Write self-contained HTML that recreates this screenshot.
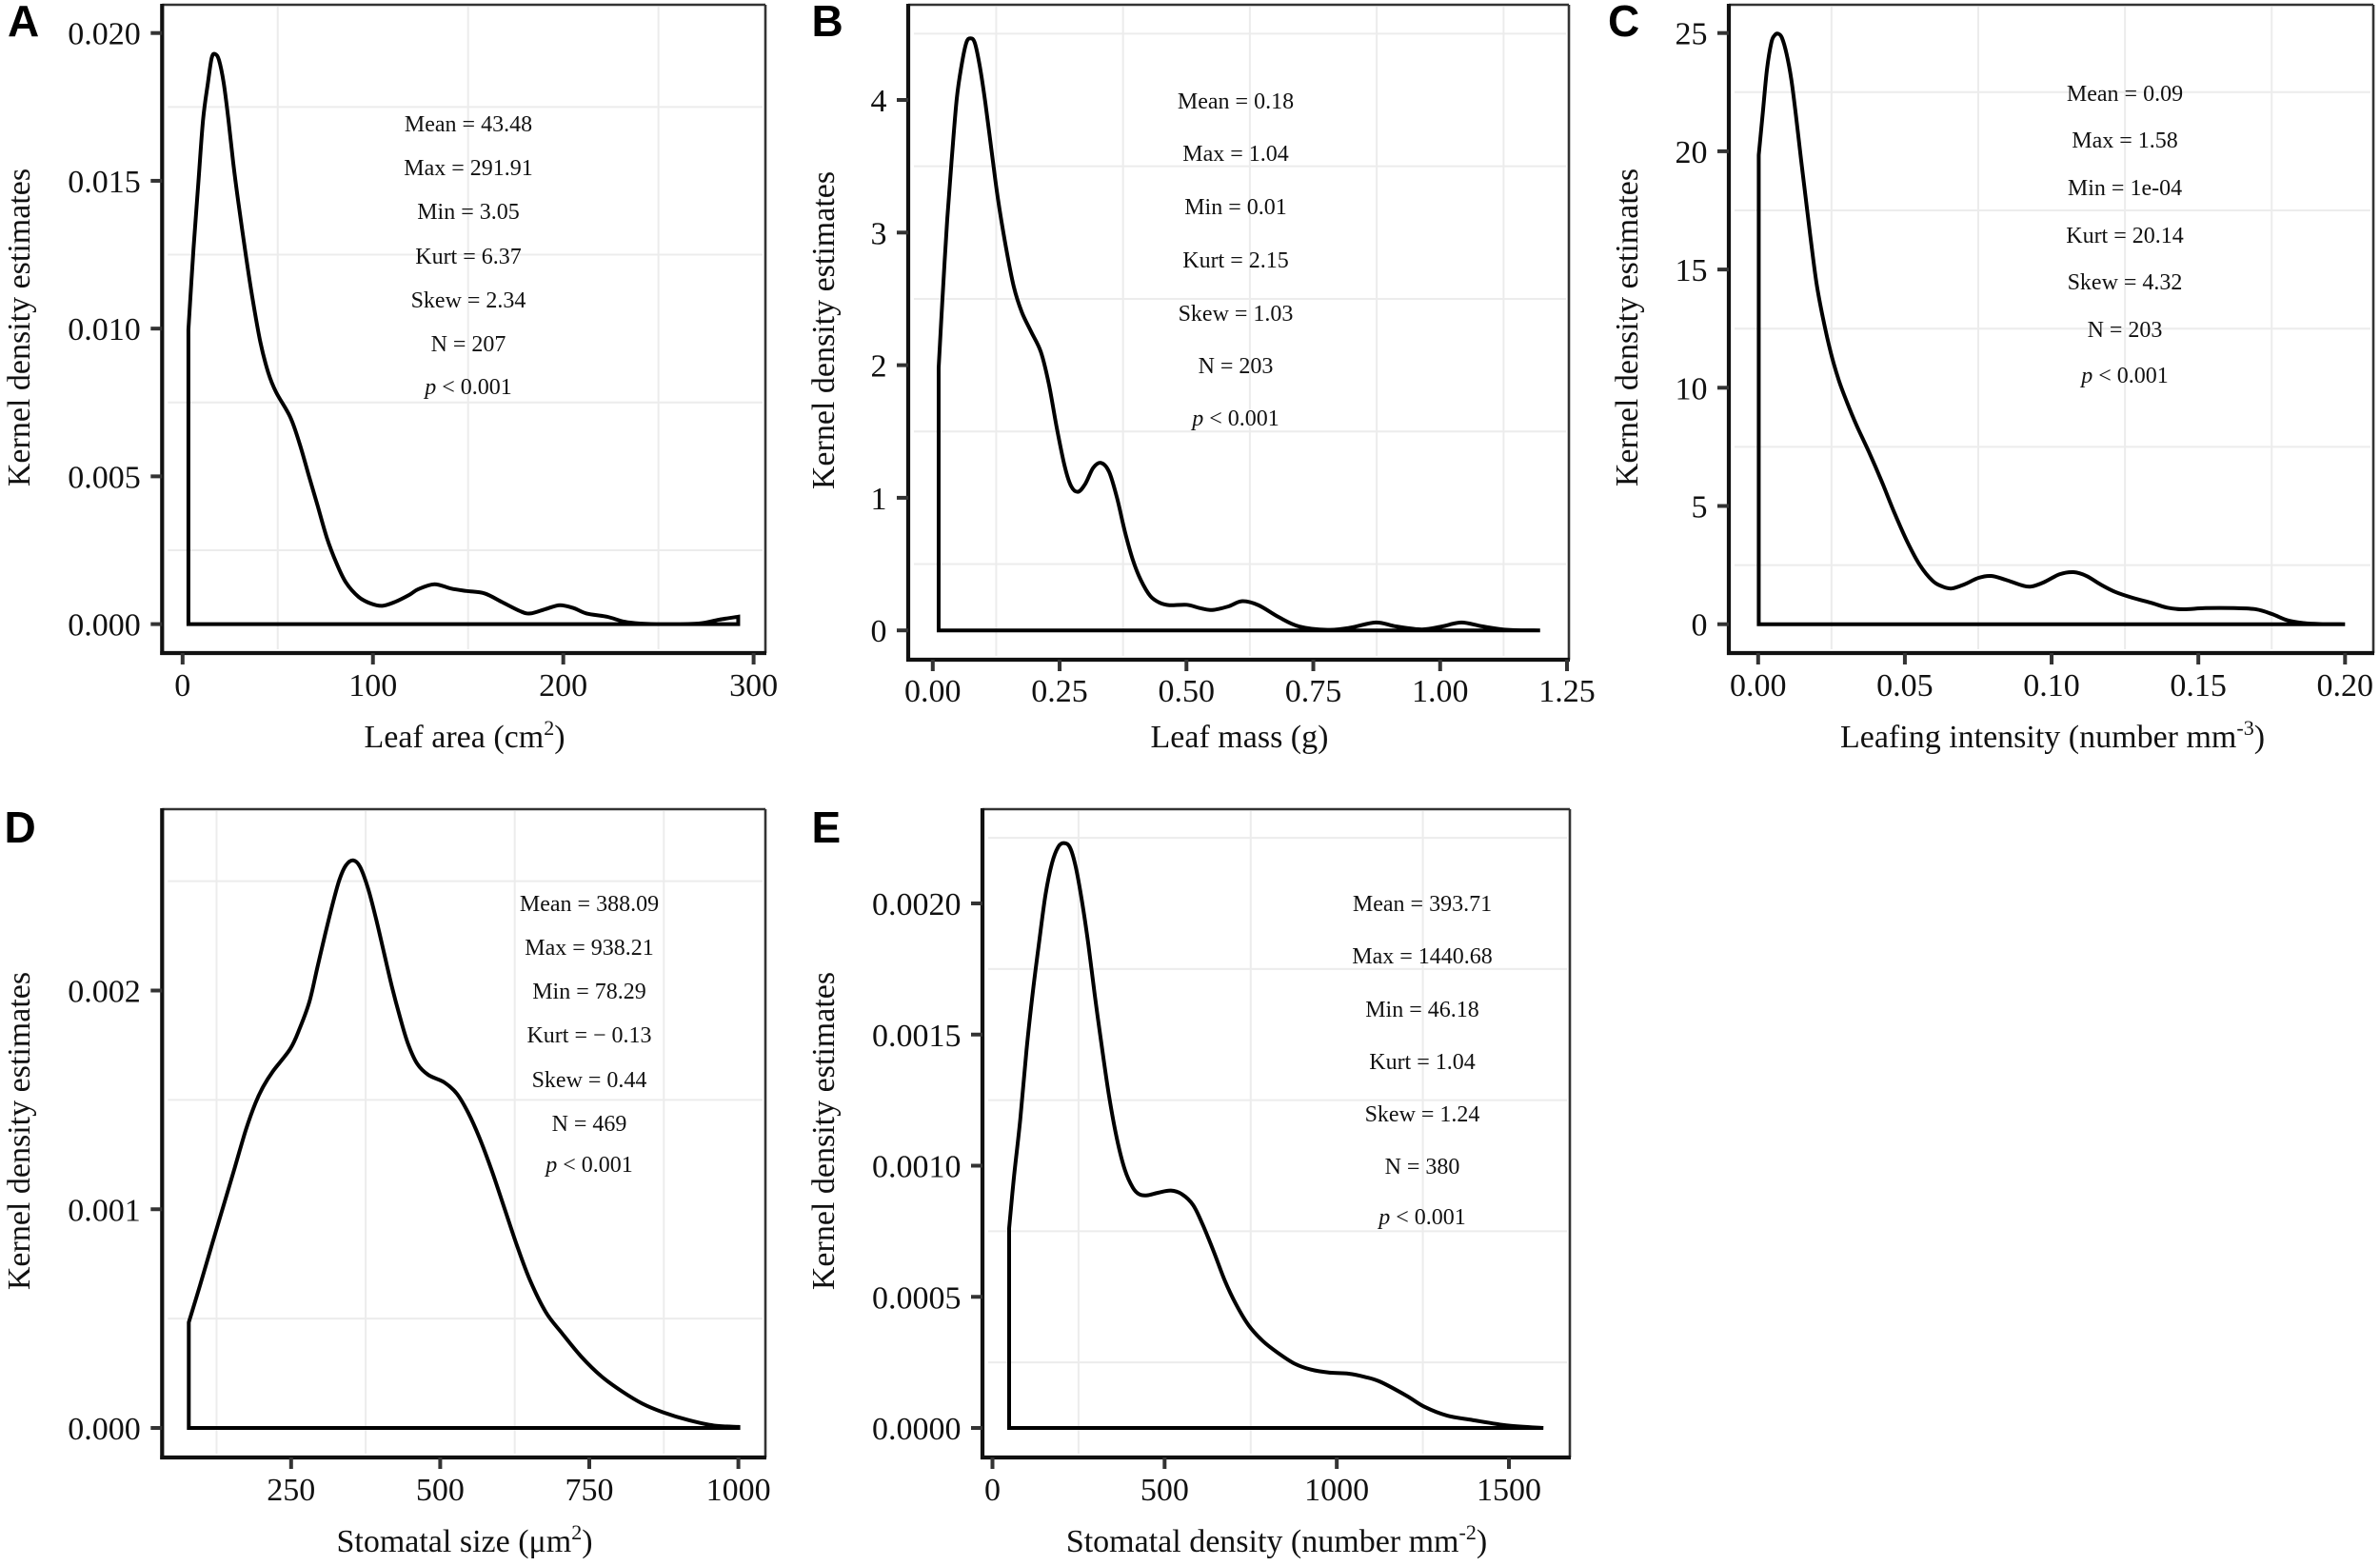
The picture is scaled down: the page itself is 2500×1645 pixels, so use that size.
<!DOCTYPE html>
<html lang="en">
<head>
<meta charset="utf-8">
<title>Kernel density estimates</title>
<style>
html,body{margin:0;padding:0;background:#fff;}
svg{display:block;font-family:"Liberation Serif",serif;}
.stat{font-size:24px;text-anchor:middle;fill:#111;}
.title{font-size:34px;text-anchor:middle;fill:#111;}
.letter{font-family:"Liberation Sans",sans-serif;font-weight:700;font-size:46px;fill:#000;}
.tick{font-size:34px;fill:#111;}
</style>
</head>
<body>
<svg id="figure" xmlns="http://www.w3.org/2000/svg" width="2500" height="1645" viewBox="0 0 2500 1645">
<rect width="2500" height="1645" fill="#fff"/>
<g id="marks"></g>

<text class="letter" x="8" y="38">A</text>
<text class="letter" x="852.5" y="38">B</text>
<text class="letter" x="1689" y="38">C</text>
<text class="letter" x="4.5" y="885">D</text>
<text class="letter" x="852.5" y="885">E</text>

<text class="title" transform="translate(31 344) rotate(-90)">Kernel density estimates</text>
<text class="title" transform="translate(876 347) rotate(-90)">Kernel density estimates</text>
<text class="title" transform="translate(1720 344) rotate(-90)">Kernel density estimates</text>
<text class="title" transform="translate(31 1188) rotate(-90)">Kernel density estimates</text>
<text class="title" transform="translate(876 1188) rotate(-90)">Kernel density estimates</text>

<text class="title" x="488" y="785">Leaf area (cm<tspan dy="-13" font-size="22">2</tspan><tspan dy="13">)</tspan></text>
<text class="title" x="1302" y="785">Leaf mass (g)</text>
<text class="title" x="2156" y="785">Leafing intensity (number mm<tspan dy="-13" font-size="22">-3</tspan><tspan dy="13">)</tspan></text>
<text class="title" x="488" y="1630">Stomatal size (μm<tspan dy="-13" font-size="22">2</tspan><tspan dy="13">)</tspan></text>
<text class="title" x="1341" y="1630">Stomatal density (number mm<tspan dy="-13" font-size="22">-2</tspan><tspan dy="13">)</tspan></text>

<g>
<text class="stat" x="492" y="138">Mean = 43.48</text>
<text class="stat" x="492" y="184">Max = 291.91</text>
<text class="stat" x="492" y="230">Min = 3.05</text>
<text class="stat" x="492" y="277">Kurt = 6.37</text>
<text class="stat" x="492" y="323">Skew = 2.34</text>
<text class="stat" x="492" y="369">N = 207</text>
<text class="stat" x="492" y="414"><tspan font-style="italic">p</tspan> &lt; 0.001</text>
</g>
<g>
<text class="stat" x="1298" y="114">Mean = 0.18</text>
<text class="stat" x="1298" y="169">Max = 1.04</text>
<text class="stat" x="1298" y="225">Min = 0.01</text>
<text class="stat" x="1298" y="281">Kurt = 2.15</text>
<text class="stat" x="1298" y="337">Skew = 1.03</text>
<text class="stat" x="1298" y="392">N = 203</text>
<text class="stat" x="1298" y="447"><tspan font-style="italic">p</tspan> &lt; 0.001</text>
</g>
<g>
<text class="stat" x="2232" y="106">Mean = 0.09</text>
<text class="stat" x="2232" y="155">Max = 1.58</text>
<text class="stat" x="2232" y="205">Min = 1e-04</text>
<text class="stat" x="2232" y="255">Kurt = 20.14</text>
<text class="stat" x="2232" y="304">Skew = 4.32</text>
<text class="stat" x="2232" y="354">N = 203</text>
<text class="stat" x="2232" y="402"><tspan font-style="italic">p</tspan> &lt; 0.001</text>
</g>
<g>
<text class="stat" x="619" y="957">Mean = 388.09</text>
<text class="stat" x="619" y="1003">Max = 938.21</text>
<text class="stat" x="619" y="1049">Min = 78.29</text>
<text class="stat" x="619" y="1095">Kurt = − 0.13</text>
<text class="stat" x="619" y="1142">Skew = 0.44</text>
<text class="stat" x="619" y="1188">N = 469</text>
<text class="stat" x="619" y="1231"><tspan font-style="italic">p</tspan> &lt; 0.001</text>
</g>
<g>
<text class="stat" x="1494" y="957">Mean = 393.71</text>
<text class="stat" x="1494" y="1012">Max = 1440.68</text>
<text class="stat" x="1494" y="1068">Min = 46.18</text>
<text class="stat" x="1494" y="1123">Kurt = 1.04</text>
<text class="stat" x="1494" y="1178">Skew = 1.24</text>
<text class="stat" x="1494" y="1233">N = 380</text>
<text class="stat" x="1494" y="1286"><tspan font-style="italic">p</tspan> &lt; 0.001</text>
</g>
</svg>

<script>
/* Panel A: leaf area */
const areaX = [3.05,5.75,8.3,10.75,13.3,15.3,17.1,19.1,21.6,24.1,26.6,29.1,33.3,36.6,40.8,45,49.1,56.6,61.6,66.6,70.8,75.8,80.8,85.8,92.5,99.1,105,111.6,119.1,123.8,132.3,141.2,149.2,158.6,168,177.3,182.7,190.7,198.2,205.5,212.2,222.9,232.2,240.3,252.3,271.1,281.8,291.91];
const areaY = [0.00996,0.01272,0.01495,0.01706,0.01831,0.01916,0.01929,0.01909,0.01831,0.01706,0.01561,0.01436,0.01245,0.01107,0.00956,0.00851,0.00785,0.007,0.00608,0.00496,0.00404,0.00292,0.00207,0.00141,0.00092,0.00069,0.00062,0.00075,0.00099,0.00118,0.00135,0.0012,0.00112,0.00104,0.00074,0.00044,0.00036,0.00051,0.00064,0.00054,0.00036,0.00025,0.00008,0.00002,0,0.00002,0.00015,0.00025];
const areaXTicks = [0,100,200,300];
const areaXLabels = ['0','100','200','300'];
const areaYTicks = [0,0.005,0.01,0.015,0.02];
const areaYLabels = ['0.000','0.005','0.010','0.015','0.020'];

/* Panel B: leaf mass */
const massX = [0.0116,0.0191,0.0285,0.0379,0.0473,0.0567,0.066,0.0741,0.0829,0.0929,0.1036,0.1161,0.1286,0.1442,0.1598,0.1755,0.1942,0.213,0.2287,0.2443,0.2599,0.2724,0.2861,0.3006,0.3162,0.3319,0.3475,0.3631,0.3788,0.3944,0.41,0.4288,0.4475,0.4663,0.5007,0.5257,0.5507,0.582,0.61,0.642,0.682,0.722,0.778,0.823,0.873,0.913,0.964,1.004,1.042,1.084,1.134,1.197];
const massY = [1.98,2.5,3.1,3.58,4.01,4.26,4.43,4.465,4.43,4.25,3.98,3.61,3.25,2.89,2.59,2.4,2.25,2.1,1.86,1.53,1.24,1.09,1.045,1.105,1.226,1.263,1.196,1.0,0.743,0.531,0.38,0.259,0.208,0.19,0.193,0.169,0.154,0.18,0.22,0.19,0.1,0.03,0.004,0.02,0.06,0.03,0.007,0.03,0.06,0.03,0.004,0];
const massXTicks = [0,0.25,0.5,0.75,1,1.25];
const massXLabels = ['0.00','0.25','0.50','0.75','1.00','1.25'];
const massYTicks = [0,1,2,3,4];
const massYLabels = ['0','1','2','3','4'];

/* Panel C: leafing intensity */
const intensityX = [0.0002,0.0016,0.003,0.0045,0.0056,0.0068,0.0081,0.0097,0.0113,0.0129,0.0146,0.0162,0.0178,0.0199,0.0221,0.0248,0.0275,0.0302,0.0335,0.0378,0.0421,0.0464,0.0508,0.0551,0.0594,0.0627,0.0659,0.0702,0.0751,0.0794,0.0843,0.0897,0.0929,0.0973,0.1027,0.1075,0.1119,0.1167,0.1216,0.1275,0.134,0.1394,0.1448,0.1524,0.1621,0.1697,0.1751,0.1805,0.1859,0.1913,0.2];
const intensityY = [19.84,21.65,23.46,24.6,24.9,24.97,24.8,24.11,23.04,21.49,19.67,18.03,16.39,14.41,12.94,11.46,10.31,9.41,8.42,7.27,6.04,4.72,3.49,2.5,1.84,1.6,1.51,1.68,1.96,2.04,1.88,1.65,1.59,1.77,2.11,2.2,2.04,1.68,1.37,1.12,0.9,0.7,0.63,0.68,0.68,0.63,0.43,0.16,0.05,0.01,0];
const intensityXTicks = [0,0.05,0.1,0.15,0.2];
const intensityXLabels = ['0.00','0.05','0.10','0.15','0.20'];
const intensityYTicks = [0,5,10,15,20,25];
const intensityYLabels = ['0','5','10','15','20','25'];

/* Panel D: stomatal size */
const sizeX = [78.4,97,118.3,137,155.7,174.2,190.1,203.5,219.5,248.7,264.7,280.7,293.9,307.3,320.6,331.3,341.8,354.1,365.7,379.1,392.4,405.7,419,432.3,445.6,461.5,480.2,506.9,528,546.8,565.3,586.7,607.9,629.1,650.5,677,703.7,736.6,770.8,805,839.2,873.4,916.2,959,1000];
const sizeY = [0.000483,0.00065,0.000848,0.00102,0.001192,0.001364,0.001485,0.001562,0.001631,0.001734,0.001829,0.001949,0.002104,0.00226,0.002406,0.002509,0.002572,0.002595,0.002565,0.002466,0.002328,0.002173,0.002018,0.001881,0.00176,0.001665,0.001614,0.00158,0.001528,0.001442,0.00133,0.001175,0.001003,0.000831,0.000676,0.00053,0.000435,0.000326,0.000235,0.000167,0.000111,0.000072,0.000036,0.000011,0.000005];
const sizeXTicks = [250,500,750,1000];
const sizeXLabels = ['250','500','750','1000'];
const sizeYTicks = [0,0.001,0.002];
const sizeYLabels = ['0.000','0.001','0.002'];

/* Panel E: stomatal density */
const densityX = [48.4,62.2,80.7,99,117.5,136,154.3,172.8,191.3,207.9,225.3,241.9,260.4,278.7,297.2,315.7,338.7,361.6,384.9,407.8,426.3,449.3,481.6,518.4,550.7,582.8,610.4,642.8,675.1,707.2,744.3,785.7,831.6,877.8,924,979.3,1034.6,1080.5,1126.6,1202.4,1254.3,1320.9,1394.9,1498.6,1600];
const densityY = [0.000761,0.000954,0.001176,0.001442,0.001665,0.001857,0.002035,0.002153,0.002216,0.00223,0.002213,0.002139,0.002005,0.001842,0.00165,0.001472,0.001265,0.001102,0.000983,0.000916,0.000891,0.000887,0.000897,0.000905,0.000891,0.00085,0.000776,0.000672,0.000561,0.000472,0.000391,0.000331,0.000284,0.000245,0.000223,0.000211,0.000207,0.000195,0.000176,0.000123,0.000081,0.000047,0.00003,0.000009,0];
const densityXTicks = [0,500,1000,1500];
const densityXLabels = ['0','500','1000','1500'];
const densityYTicks = [0,0.0005,0.001,0.0015,0.002];
const densityYLabels = ['0.0000','0.0005','0.0010','0.0015','0.0020'];

const SVGNS = 'http://www.w3.org/2000/svg';
const root = document.getElementById('marks');

function mk(tag, attrs, parent) {
  const el = document.createElementNS(SVGNS, tag);
  for (const k in attrs) el.setAttribute(k, attrs[k]);
  parent.appendChild(el);
  return el;
}

function linear(d0, d1, r0, r1) {
  return function (v) { return r0 + (v - d0) * (r1 - r0) / (d1 - d0); };
}

function smoothPath(px, py) {
  let d = '';
  for (let i = 0; i < px.length - 1; i++) {
    const i0 = Math.max(i - 1, 0), i3 = Math.min(i + 2, px.length - 1);
    const c1x = px[i] + (px[i + 1] - px[i0]) / 6;
    const c1y = py[i] + (py[i + 1] - py[i0]) / 6;
    const c2x = px[i + 1] - (px[i3] - px[i]) / 6;
    const c2y = py[i + 1] - (py[i3] - py[i]) / 6;
    d += 'C' + c1x.toFixed(2) + ' ' + c1y.toFixed(2) + ' ' + c2x.toFixed(2) + ' ' + c2y.toFixed(2) + ' ' + px[i + 1].toFixed(2) + ' ' + py[i + 1].toFixed(2);
  }
  return d;
}

function drawPanel(p) {
  const g = mk('g', {}, root);
  
  

  const sx = linear(p.xDom[0], p.xDom[1], p.xPix[0], p.xPix[1]);
  const sy = linear(p.yDom[0], p.yDom[1], p.yPix[0], p.yPix[1]);

  /* minor grid lines sit half way between ticks */
  const xStep = p.xTicks[1] - p.xTicks[0];
  for (let i = -1; i < p.xTicks.length; i++) {
    const gx = sx(p.xTicks[0] + xStep * (i + 0.5));
    if (gx <= p.left + 2 || gx >= p.right - 2) continue;
    const line = mk('line', { x1: gx, x2: gx, y1: p.top + 2, y2: p.bottom - 4, stroke: '#ececec', 'stroke-width': 2 }, g);
    
    
  }
  const yStep = p.yTicks[1] - p.yTicks[0];
  for (let i = -1; i < p.yTicks.length; i++) {
    const gy = sy(p.yTicks[0] + yStep * (i + 0.5));
    if (gy <= p.top + 2 || gy >= p.bottom - 2) continue;
    const line = mk('line', { x1: p.left + 6, x2: p.right - 3, y1: gy, y2: gy, stroke: '#ececec', 'stroke-width': 2 }, g);
    
    
  }

  /* density outline: closed at the baseline */
  const px = p.xs.map(sx);
  const py = p.ys.map(sy);
  const base = sy(0);
  const d = 'M' + px[0].toFixed(2) + ' ' + base.toFixed(2) + 'L' + px[0].toFixed(2) + ' ' + py[0].toFixed(2) +
    smoothPath(px, py) + 'L' + px[px.length - 1].toFixed(2) + ' ' + base.toFixed(2) + 'Z';
  const curve = mk('path', { d: d, fill: 'none', stroke: '#000', 'stroke-width': 4, 'stroke-linejoin': 'miter' }, g);
  
  

  /* panel border */
  const topEdge = mk('line', { x1: p.left, x2: p.right, y1: p.top, y2: p.top, stroke: '#333', 'stroke-width': 2.6 }, g);
  
  
  const rightEdge = mk('line', { x1: p.right, x2: p.right, y1: p.top, y2: p.bottom, stroke: '#333', 'stroke-width': 2.6 }, g);
  
  
  const leftAxis = mk('line', { x1: p.left, x2: p.left, y1: p.top - 1, y2: p.bottom + 2, stroke: '#111', 'stroke-width': 4.2 }, g);
  
  
  const bottomAxis = mk('line', { x1: p.left - 2, x2: p.right + 1, y1: p.bottom, y2: p.bottom, stroke: '#111', 'stroke-width': 4.2 }, g);
  
  

  /* ticks */
  p.xTicks.forEach(function (t, i) {
    const x = sx(t);
    const tick = mk('line', { x1: x, x2: x, y1: p.bottom, y2: p.bottom + 12, stroke: '#333', 'stroke-width': 4 }, g);
    
    
    const label = mk('text', { x: x, y: p.xLabelY, 'text-anchor': 'middle', class: 'tick' }, g);
    label.textContent = p.xLabels[i];
    
    
  });
  p.yTicks.forEach(function (t, i) {
    const y = sy(t);
    const tick = mk('line', { x1: p.left - 12, x2: p.left, y1: y, y2: y, stroke: '#333', 'stroke-width': 4 }, g);
    
    
    const label = mk('text', { x: p.left - 22.5, y: y + 12, 'text-anchor': 'end', class: 'tick' }, g);
    label.textContent = p.yLabels[i];
    
    
  });
}

drawPanel({ id: 'a', left: 170.3, right: 804, top: 5, bottom: 686, xLabelY: 731,
  xDom: [0, 300], xPix: [191.8, 791.6], yDom: [0, 0.02], yPix: [655.6, 34.7],
  xs: areaX, ys: areaY, xTicks: areaXTicks, xLabels: areaXLabels, yTicks: areaYTicks, yLabels: areaYLabels });
drawPanel({ id: 'b', left: 954, right: 1648, top: 5, bottom: 693, xLabelY: 737,
  xDom: [0, 1.25], xPix: [979.8, 1646], yDom: [0, 4], yPix: [662.2, 105],
  xs: massX, ys: massY, xTicks: massXTicks, xLabels: massXLabels, yTicks: massYTicks, yLabels: massYLabels });
drawPanel({ id: 'c', left: 1816, right: 2493, top: 5, bottom: 686, xLabelY: 731,
  xDom: [0, 0.2], xPix: [1846.8, 2463.3], yDom: [0, 25], yPix: [655.7, 34.7],
  xs: intensityX, ys: intensityY, xTicks: intensityXTicks, xLabels: intensityXLabels, yTicks: intensityYTicks, yLabels: intensityYLabels });
drawPanel({ id: 'd', left: 170.3, right: 804, top: 850, bottom: 1531, xLabelY: 1576,
  xDom: [250, 1000], xPix: [305.8, 775.6], yDom: [0, 0.002], yPix: [1500, 1040.5],
  xs: sizeX, ys: sizeY, xTicks: sizeXTicks, xLabels: sizeXLabels, yTicks: sizeYTicks, yLabels: sizeYLabels });
drawPanel({ id: 'e', left: 1032, right: 1649, top: 850, bottom: 1531, xLabelY: 1576,
  xDom: [0, 1500], xPix: [1042.5, 1585], yDom: [0, 0.002], yPix: [1500, 949],
  xs: densityX, ys: densityY, xTicks: densityXTicks, xLabels: densityXLabels, yTicks: densityYTicks, yLabels: densityYLabels });
</script>
</body>
</html>
